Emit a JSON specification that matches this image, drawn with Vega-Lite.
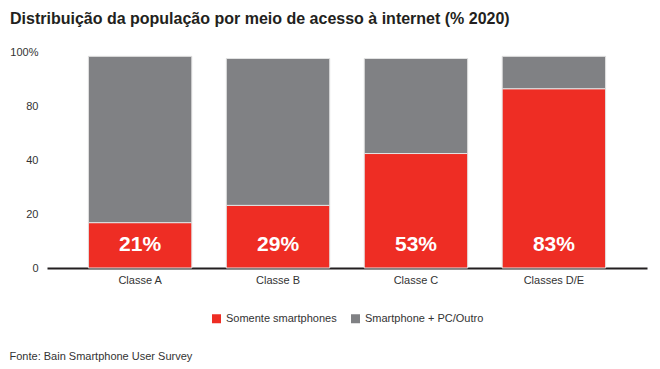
{
  "$schema": "https://vega.github.io/schema/vega-lite/v6.json",
  "width": 600,
  "height": 216,
  "autosize": {"type": "none"},
  "padding": {"left": 47, "top": 52, "right": 13, "bottom": 101},
  "background": "white",
  "config": {
    "view": {"stroke": null},
    "font": "Liberation Sans",
    "axis": {"grid": false, "labelFont": "Liberation Sans", "titleFont": "Liberation Sans"},
    "legend": {"labelFont": "Liberation Sans"}
  },
  "title": {
    "text": "Distribuição da população por meio de acesso à internet (% 2020)",
    "anchor": "start",
    "frame": "group",
    "fontSize": 16,
    "fontWeight": "bold",
    "color": "#231F20",
    "font": "Liberation Sans",
    "dx": -37,
    "baseline": "alphabetic",
    "offset": 6
  },
  "data": {
    "values": [
      {"classe": "Classe A", "tipo": "Somente smartphones", "valor": 21, "rotulo": "21%"},
      {"classe": "Classe A", "tipo": "Smartphone + PC/Outro", "valor": 77},
      {"classe": "Classe B", "tipo": "Somente smartphones", "valor": 29, "rotulo": "29%"},
      {"classe": "Classe B", "tipo": "Smartphone + PC/Outro", "valor": 68},
      {"classe": "Classe C", "tipo": "Somente smartphones", "valor": 53, "rotulo": "53%"},
      {"classe": "Classe C", "tipo": "Smartphone + PC/Outro", "valor": 44},
      {"classe": "Classes D/E", "tipo": "Somente smartphones", "valor": 83, "rotulo": "83%"},
      {"classe": "Classes D/E", "tipo": "Smartphone + PC/Outro", "valor": 15}
    ]
  },
  "encoding": {
    "x": {
      "field": "classe",
      "type": "nominal",
      "sort": null,
      "scale": {"paddingInner": 0.25, "paddingOuter": 0.3},
      "axis": {
        "title": "Fonte: Bain Smartphone User Survey",
        "titleFontSize": 11,
        "titleFontWeight": "normal",
        "titleColor": "#333333",
        "titleAnchor": "start",
        "titleAlign": "left",
        "titleBaseline": "alphabetic",
        "titleX": -38,
        "titleY": 91,
        "labelAngle": 0,
        "labelFontSize": 11,
        "labelColor": "#333333",
        "labelPadding": 6,
        "ticks": false,
        "domainColor": "#231F20",
        "domainWidth": 2
      }
    }
  },
  "layer": [
    {
      "mark": {"type": "bar", "stroke": "#e3e3e3", "strokeWidth": 1},
      "encoding": {
        "y": {
          "field": "valor",
          "type": "quantitative",
          "stack": "zero",
          "scale": {"domain": [0, 100], "nice": false},
          "axis": {
            "title": null,
            "values": [0, 25, 50, 75, 100],
            "labelExpr": "datum.value == 100 ? '100%' : datum.value == 75 ? '80' : datum.value == 50 ? '40' : datum.value == 25 ? '20' : '0'",
            "domain": false,
            "ticks": false,
            "labelPadding": 9,
            "labelFontSize": 11,
            "labelColor": "#333333"
          }
        },
        "color": {
          "field": "tipo",
          "type": "nominal",
          "scale": {
            "domain": ["Somente smartphones", "Smartphone + PC/Outro"],
            "range": ["#EE2D24", "#808184"]
          },
          "legend": {
            "title": null,
            "orient": "none",
            "direction": "horizontal",
            "legendX": 164,
            "legendY": 261,
            "symbolType": "square",
            "symbolSize": 81,
            "symbolStrokeWidth": 0,
            "labelFontSize": 11,
            "labelColor": "#333333",
            "labelOffset": 4,
            "columnPadding": 13
          }
        },
        "order": {"field": "tipo", "sort": "descending"}
      }
    },
    {
      "transform": [{"filter": "datum.tipo == 'Somente smartphones'"}],
      "mark": {"type": "text", "color": "white", "fontSize": 21, "fontWeight": "bold", "baseline": "middle", "dy": -23},
      "encoding": {
        "y": {"datum": 0, "type": "quantitative"},
        "text": {"field": "rotulo"}
      }
    }
  ]
}
